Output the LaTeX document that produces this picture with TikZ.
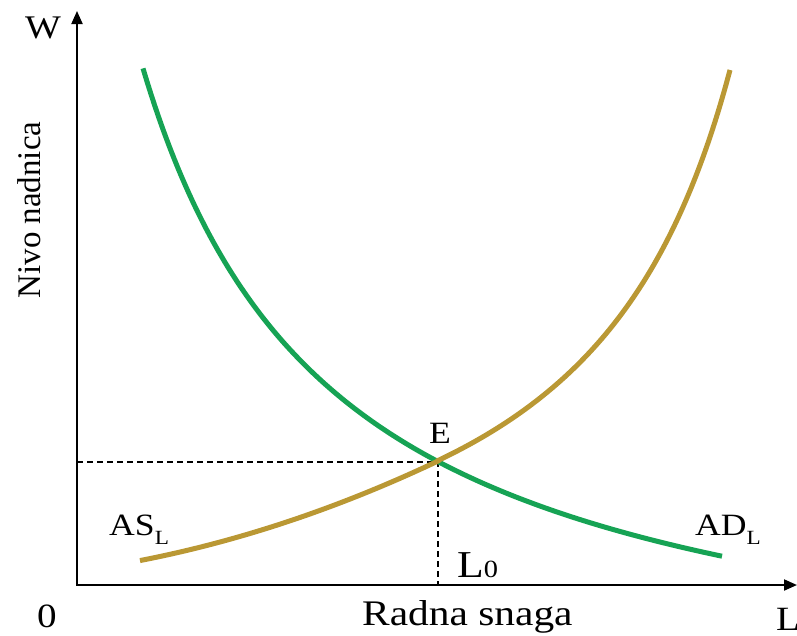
\documentclass[tikz,border=0pt]{standalone}
\usepackage{fontspec}
\setmainfont{Liberation Serif}[FakeStretch=1.15]
\newfontfamily\vertfont{Liberation Serif}
\usetikzlibrary{arrows.meta}
\definecolor{adgreen}{RGB}{22,163,84}
\definecolor{asgold}{RGB}{186,152,52}
\newcommand\mysub[2][0.3em]{\raisebox{-#1}{\scalebox{0.65}{#2}}}
\begin{document}
\begin{tikzpicture}[x=1pt,y=-1pt,
  lbl/.style={inner sep=0pt, font=\fontsize{#1}{#1}\selectfont},
  lbl/.default=33,
  axisline/.style={line width=2pt, {Triangle[length=13pt,width=11pt]}-{Triangle[length=13pt,width=11pt]}},
  guide/.style={line width=1.3pt, dash pattern=on 6pt off 4pt},
  curve/.style={line width=5pt}]
\useasboundingbox (0,0) rectangle (797,635);
\coordinate (O) at (77,585);
\coordinate (ytop) at (77,11);
\coordinate (xend) at (797,585);
\coordinate (E) at (438,462);
% dashed guides
\draw[guide] (O |- E) -- (E) -- (E |- O);
% axes
\draw[axisline] (ytop) -- (O) -- (xend);
% AD curve (green)
\draw[curve, adgreen] plot[domain=143:722, samples=150]
  (\x, {718.8 - 125.528/((\x+50)/1000)});
% AS curve (gold)
\draw[curve, asgold] plot[domain=140:438, samples=60]
  (\x, {461.5 - 0.4725*(\x-437) - 4.68*((\x-437)/100)*((\x-437)/100)})
  -- plot[domain=438:730, samples=120]
  (\x, {675.3 - 97.216/((890.6-\x)/1000)});
% labels
\node[lbl=33, anchor=base west] (Wl) at (25,38) {W};
\node[lbl=34, anchor=base] (zero) at (47,627) {0};
\node[lbl=36, anchor=base west] (xlab) at (362,625) {Radna snaga};
\node[lbl=34, anchor=base west] (Ll) at (776,630) {L};
\node[rotate=90, anchor=base, inner sep=0pt, font=\vertfont\fontsize{33}{33}\selectfont] (ylab) at (40,210) {Nivo nadnica};
\node[lbl=31, anchor=base west] (El) at (429,443) {E};
\node[lbl=38, anchor=base west] (L0) at (457,577) {L\mysub[0em]{0}};
\node[lbl=31, anchor=base west] (AS) at (109,535) {AS\mysub{L}};
\node[lbl=31, anchor=base west] (AD) at (695,535) {AD\mysub{L}};
\end{tikzpicture}
\end{document}
